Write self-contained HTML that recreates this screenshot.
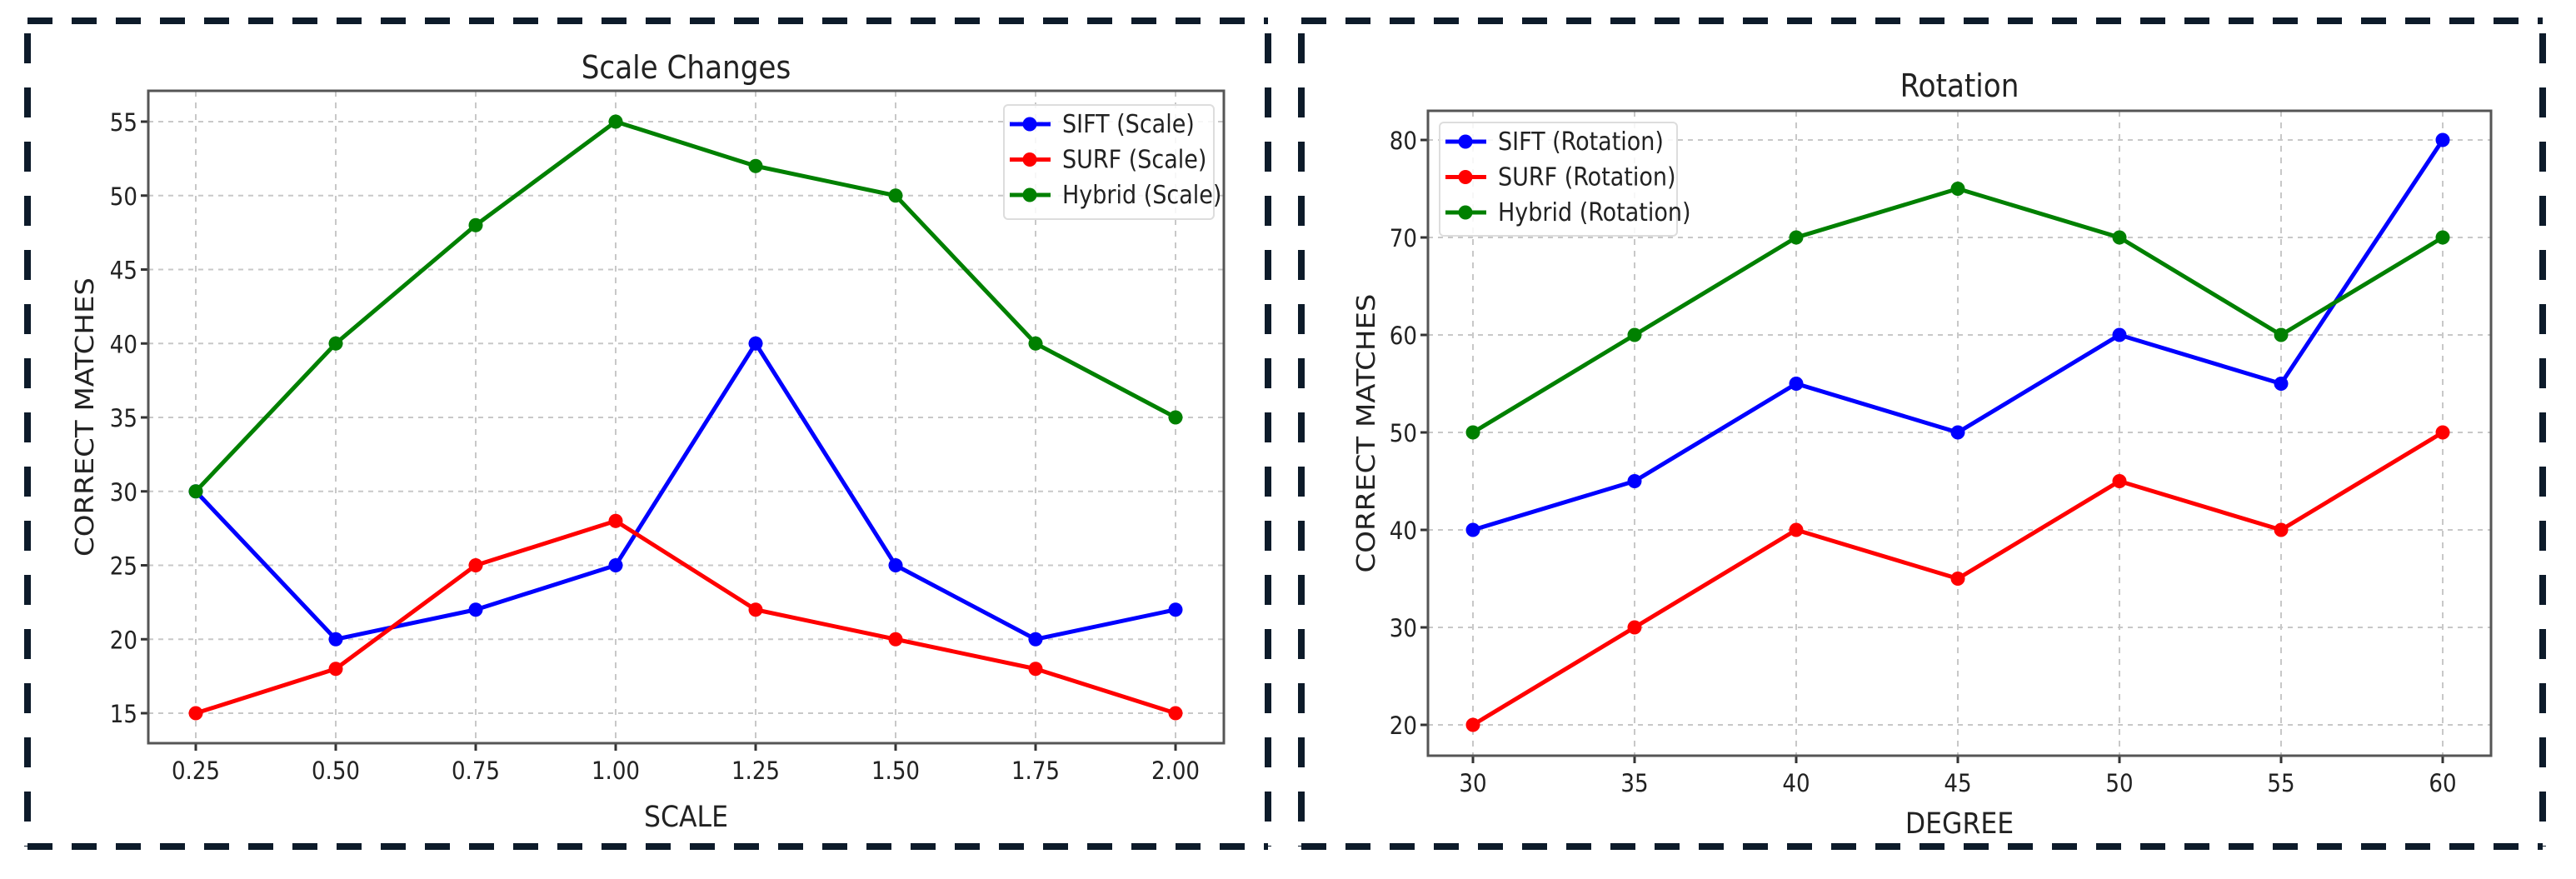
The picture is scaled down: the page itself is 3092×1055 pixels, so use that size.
<!DOCTYPE html>
<html><head><meta charset="utf-8"><style>
html,body{margin:0;padding:0;background:#fff;}
svg{display:block;}
text{font-family:"DejaVu Sans Condensed","DejaVu Sans","Liberation Sans",sans-serif;fill:#222;}
</style></head><body>
<svg id="chart" width="3092" height="1055" viewBox="0 0 3092 1055" xmlns="http://www.w3.org/2000/svg"></svg>
<script>
const scaleCats = [0.25,0.5,0.75,1.0,1.25,1.5,1.75,2.0];
const scaleTickLabels = ["0.25","0.50","0.75","1.00","1.25","1.50","1.75","2.00"];
const scaleYTicks = [15,20,25,30,35,40,45,50,55];
const siftScale = [30,20,22,25,40,25,20,22];
const surfScale = [15,18,25,28,22,20,18,15];
const hybridScale = [30,40,48,55,52,50,40,35];
const rotCats = [30,35,40,45,50,55,60];
const rotTickLabels = ["30","35","40","45","50","55","60"];
const rotYTicks = [20,30,40,50,60,70,80];
const siftRot = [40,45,55,50,60,55,80];
const surfRot = [20,30,40,35,45,40,50];
const hybridRot = [50,60,70,75,70,60,70];

const NS="http://www.w3.org/2000/svg";
const svg=document.getElementById('chart');
function el(tag,attrs,parent){const e=document.createElementNS(NS,tag);for(const k in attrs)e.setAttribute(k,attrs[k]);(parent||svg).appendChild(e);return e;}

function border(x1,y1,x2,y2,name){
  const g=el('g',{});
  
  
  const st={stroke:'#0d1b2a','stroke-width':8,fill:'none'};
  el('line',Object.assign({x1:x1,y1:y1,x2:x2,y2:y1,'stroke-dasharray':'30 23'},st),g);
  el('line',Object.assign({x1:x1,y1:y2,x2:x2,y2:y2,'stroke-dasharray':'30 23'},st),g);
  el('line',Object.assign({x1:x1,y1:y1+15,x2:x1,y2:y2,'stroke-dasharray':'36 29'},st),g);
  el('line',Object.assign({x1:x2,y1:y1+15,x2:x2,y2:y2,'stroke-dasharray':'36 29'},st),g);
}
border(33,25,1522,1016,'left-panel-border');
border(1562,25,3052,1016,'right-panel-border');

function panel(cfg){
  const g=el('g',{});
  
  
  const X=v=>cfg.x0+(v-cfg.xv0)*cfg.xs;
  const Y=v=>cfg.y0-(v-cfg.yv0)*cfg.ys;
  cfg.cats.forEach((c,i)=>{
    const l=el('line',{x1:X(c),x2:X(c),y1:cfg.top,y2:cfg.bottom,stroke:'#c8c8c8','stroke-width':2,'stroke-dasharray':'7 7'},g);
    
    
    el('line',{x1:X(c),x2:X(c),y1:cfg.bottom,y2:cfg.bottom+9,stroke:'#333','stroke-width':3},g);
    const t=el('text',{x:X(c),y:cfg.xTickY,'text-anchor':'middle','font-size':29},g);
    t.textContent=cfg.xLabels[i];
    
    
  });
  cfg.yTicks.forEach(v=>{
    const l=el('line',{x1:cfg.left,x2:cfg.right,y1:Y(v),y2:Y(v),stroke:'#c8c8c8','stroke-width':2,'stroke-dasharray':'6 6'},g);
    
    
    el('line',{x1:cfg.left-9,x2:cfg.left,y1:Y(v),y2:Y(v),stroke:'#333','stroke-width':3},g);
    const t=el('text',{x:cfg.left-13,y:Y(v)+11,'text-anchor':'end','font-size':29},g);
    t.textContent=String(v);
    
    
  });
  const fr=el('rect',{x:cfg.left,y:cfg.top,width:cfg.right-cfg.left,height:cfg.bottom-cfg.top,fill:'none',stroke:'#555','stroke-width':3},g);
  
  
  cfg.series.forEach(s=>{
    const pts=cfg.cats.map((c,i)=>X(c)+','+Y(s.vals[i])).join(' ');
    const pl=el('polyline',{points:pts,fill:'none',stroke:s.color,'stroke-width':5,'stroke-linejoin':'round'},g);
    
    
    cfg.cats.forEach((c,i)=>{
      const m=el('circle',{cx:X(c),cy:Y(s.vals[i]),r:8.5,fill:s.color},g);
      
      
    });
  });
  const lg=el('g',{},g);
  
  
  el('rect',{x:cfg.lx,y:cfg.ly,width:cfg.lw,height:cfg.lh,rx:5,fill:'#fff','fill-opacity':0.85,stroke:'#ddd','stroke-width':2},lg);
  cfg.series.forEach((s,i)=>{
    const yy=cfg.ly+23+i*42.5;
    const e=el('g',{},lg);
    
    
    el('line',{x1:cfg.lx+7,x2:cfg.lx+56,y1:yy,y2:yy,stroke:s.color,'stroke-width':5},e);
    el('circle',{cx:cfg.lx+31,cy:yy,r:8.5,fill:s.color},e);
    const t=el('text',{x:cfg.lx+70,y:yy+10,'font-size':30},e);
    t.textContent=s.label;
  });
  const ti=el('text',{x:(cfg.left+cfg.right)/2,y:cfg.titleY,'text-anchor':'middle','font-size':38},g);
  ti.textContent=cfg.title;
  
  
  const xt=el('text',{x:(cfg.left+cfg.right)/2,y:cfg.xTitleY,'text-anchor':'middle','font-size':35},g);
  xt.textContent=cfg.xTitle;
  
  
  const cy=(cfg.top+cfg.bottom)/2;
  const yt=el('text',{x:cfg.yTitleX,y:cy,'text-anchor':'middle','font-size':30,'font-family':'Liberation Sans, sans-serif',textLength:335,lengthAdjust:'spacingAndGlyphs',transform:'rotate(-90 '+cfg.yTitleX+' '+cy+')'},g);
  yt.textContent='CORRECT MATCHES';
  
  
}

panel({name:'scale-changes-chart',left:178,right:1469,top:109,bottom:892,
  x0:235,xv0:0.25,xs:168/0.25,y0:146,yv0:55,ys:17.75,
  cats:scaleCats,xLabels:scaleTickLabels,yTicks:scaleYTicks,xTickY:935,
  series:[{key:'sift-scale',label:'SIFT (Scale)',color:'#0000ff',vals:siftScale},
          {key:'surf-scale',label:'SURF (Scale)',color:'#ff0000',vals:surfScale},
          {key:'hybrid-scale',label:'Hybrid (Scale)',color:'#008000',vals:hybridScale}],
  lx:1205,ly:126,lw:252,lh:137,title:'Scale Changes',titleY:94,xTitle:'SCALE',xTitleY:992,yTitleX:112});

panel({name:'rotation-chart',left:1714,right:2990,top:133,bottom:907,
  x0:1768,xv0:30,xs:194/5,y0:168,yv0:80,ys:11.7,
  cats:rotCats,xLabels:rotTickLabels,yTicks:rotYTicks,xTickY:950,
  series:[{key:'sift-rotation',label:'SIFT (Rotation)',color:'#0000ff',vals:siftRot},
          {key:'surf-rotation',label:'SURF (Rotation)',color:'#ff0000',vals:surfRot},
          {key:'hybrid-rotation',label:'Hybrid (Rotation)',color:'#008000',vals:hybridRot}],
  lx:1728,ly:147,lw:285,lh:136,title:'Rotation',titleY:116,xTitle:'DEGREE',xTitleY:1000,yTitleX:1650});
</script>
</body></html>
